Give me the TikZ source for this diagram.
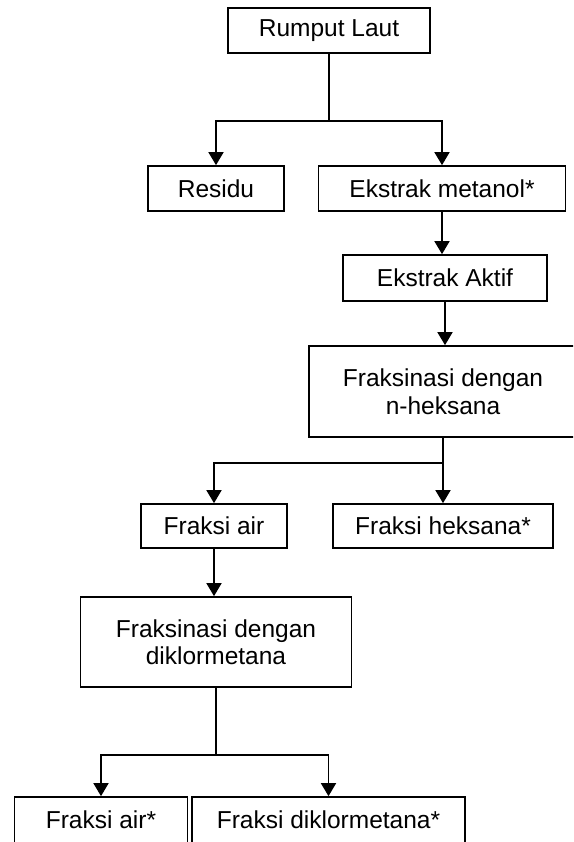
\documentclass[tikz,border=0pt]{standalone}
\usepackage{fontspec}
\setmainfont{Liberation Sans}
\usetikzlibrary{arrows.meta}
\begin{document}
\begin{tikzpicture}[x=1pt,y=-1pt,
  box/.style={draw,line width=1.7pt,rectangle,inner sep=0pt,align=center,
    font=\fontsize{24.5}{27.5}\selectfont},
  ln/.style={line width=1.7pt},
  arr/.style={line width=1.7pt,-{Triangle[width=15pt,length=13pt]}}]
\useasboundingbox (0,0) rectangle (573,842);
\clip (0,0) rectangle (573,842);
\node[box,minimum width=202pt,minimum height=45pt] (rl) at (329,30.5) {Rumput Laut};
\node[box,minimum width=136pt,minimum height=45pt] (res) at (216,188.5) {Residu};
\node[box,minimum width=247pt,minimum height=45pt] (em) at (442,188.5) {Ekstrak metanol*};
\node[box,minimum width=204pt,minimum height=46pt] (ea) at (445,278) {Ekstrak Aktif};
\node[box,minimum width=268pt,minimum height=91pt] (fn) at (443,391.5) {Fraksinasi dengan\\n-heksana};
\node[box,minimum width=146pt,minimum height=44pt] (fa) at (214,526) {Fraksi air};
\node[box,minimum width=220pt,minimum height=44pt] (fh) at (443,526) {Fraksi heksana*};
\node[box,minimum width=271pt,minimum height=90pt] (fd) at (216,642) {Fraksinasi dengan\\diklormetana};
\node[box,minimum width=173pt,minimum height=46pt] (fa2) at (101,820) {Fraksi air*};
\node[box,minimum width=273pt,minimum height=46pt] (fdk) at (328.5,820) {Fraksi diklormetana*};

\draw[ln] (rl.south) -- ++(0,67) coordinate (j1);
\draw[arr] (j1) -| (res.north);
\draw[arr] (j1) -| (em.north);
\draw[arr] (em.south) -- (em.south |- ea.north);
\draw[arr] (ea.south) -- (ea.south |- fn.north);
\draw[ln] (fn.south) -- ++(0,25) coordinate (j2);
\draw[arr] (j2) -| (fa.north);
\draw[arr] (j2) -| (fh.north);
\draw[arr] (fa.south) -- (fa.south |- fd.north);
\draw[ln] (fd.south) -- ++(0,67) coordinate (j3);
\draw[arr] (j3) -| (fa2.north);
\draw[arr] (j3) -| (fdk.north);
\end{tikzpicture}
\end{document}
